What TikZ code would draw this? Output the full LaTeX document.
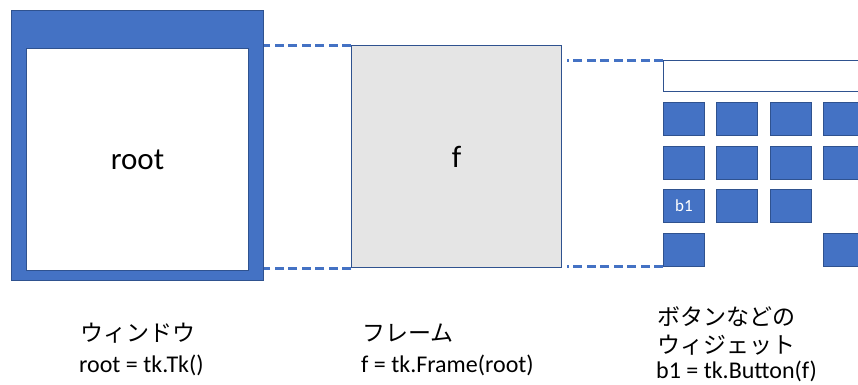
\documentclass[tikz,border=0pt]{standalone}
\usepackage{fontspec}
\setmainfont{Carlito}
\newfontfamily\jpfont{Noto Sans CJK JP}
\usetikzlibrary{calc}
\definecolor{accent}{HTML}{4472C4}
\definecolor{edge}{HTML}{2F528F}
\definecolor{panel}{HTML}{E5E5E5}

\begin{document}
\begin{tikzpicture}[x=1pt,y=-1pt,
  box/.style={draw=edge,line width=1pt,inner sep=0pt,anchor=north west},
  btn/.style={box,fill=accent,minimum width=41pt,minimum height=33pt},
  link/.style={accent,line width=3pt,dash pattern=on 9pt off 4.5pt},
  code/.style={anchor=base west,inner sep=0pt,font=\fontsize{24}{28}\selectfont},
  jp/.style={anchor=base west,inner sep=0pt,font=\jpfont\fontsize{23}{28}\selectfont}]
  \useasboundingbox (0,0) rectangle (858,384);
  \clip (0,0) rectangle (858,384);
  % window
  \node[box,fill=accent,minimum width=252pt,minimum height=270pt] (win) at (11,10) {};
  \node[box,fill=white,minimum width=222pt,minimum height=222pt,font=\fontsize{31}{36}\selectfont] (rootbox) at (26,48) {root};
  % frame
  \node[box,fill=panel,minimum width=210pt,minimum height=222pt,font=\fontsize{31}{36}\selectfont] (f) at (351,45) {f};
  % widgets
  \node[box,fill=white,minimum width=240pt,minimum height=31pt] (entry) at (663,60) {};
  \foreach \r/\cols in {1/{1,2,3,4},2/{1,2,3,4},3/{1,2,3},4/{1,4}} {
    \foreach \c in \cols {
      \node[btn] (b\r\c) at ({663+53.4*(\c-1)},{102+43.5*(\r-1)}) {};
    }
  }
  \node[text=white,font=\fontsize{17}{20}\selectfont] (b1) at (b31.center) {b1};
  % dashed guides
  \draw[link] (f.north west) -- (f.north west -| win.east);
  \draw[link] (f.south west) -- (f.south west -| win.east);
  \draw[link] (entry.north west) -- ($(entry.north west -| f.east)+(5,0)$);
  \draw[link] (b41.south west) -- ($(b41.south west -| f.east)+(5,0)$);
  % captions
  \node[jp] (winjp) at (80,341) {ウィンドウ};
  \node[code] (wincode) at (79,372) {root = tk.Tk()};
  \node[jp] (fjp) at (362,341) {フレーム};
  \node[code] (fcode) at (361,372) {f = tk.Frame(root)};
  \node[jp] (wjp1) at (657,325) {ボタンなどの};
  \node[jp] (wjp2) at (657,353) {ウィジェット};
  \node[code] (wcode) at (656,378) {b1 = tk.Button(f)};
\end{tikzpicture}
\end{document}
